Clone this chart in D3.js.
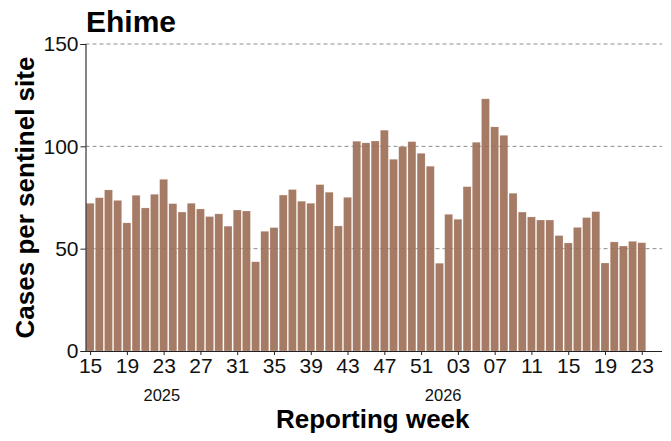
<!DOCTYPE html>
<html>
<head>
<meta charset="utf-8">
<script src="https://cdn.jsdelivr.net/npm/d3@7"></script>
<style>
  html, body { margin: 0; padding: 0; background: #fff; }
  svg { display: block; font-family: "Liberation Sans", Arial, sans-serif; }
</style>
</head>
<body>
<svg id="chart" width="671" height="441"></svg>
<script>
// ---- data ----
const title = "Ehime";
const weeks2025 = [15,16,17,18,19,20,21,22,23,24,25,26,27,28,29,30,31,32,33,34,35,36,37,38,39,40,41,42,43,44,45,46,47,48,49,50,51,52];
const values2025 = [72.2,74.9,78.7,73.6,62.6,76.1,69.9,76.6,83.9,72.0,67.9,72.2,69.4,65.7,67.0,61.0,68.9,68.4,43.6,58.5,60.3,76.2,78.9,73.2,72.2,81.3,77.6,61.1,75.1,102.5,101.7,102.6,107.9,93.7,99.9,102.3,96.6,90.3];
const weeks2026 = [1,2,3,4,5,6,7,8,9,10,11,12,13,14,15,16,17,18,19,20,21,22,23];
const values2026 = [42.9,66.8,64.4,80.3,102.0,123.2,109.5,105.4,77.1,67.9,65.5,64.0,64.0,56.4,52.8,60.4,65.2,68.1,43.0,53.3,51.3,53.6,52.9];
const yTicks = [0, 50, 100, 150];
const yearLabels = ["2025", "2026"];
const yearLabelAt = [7.8, 38.4]; // position in week-index units
const xTitle = "Reporting week";
const yTitle = "Cases per sentinel site";

(function () {
const data = [
  ...weeks2025.map((w, i) => ({ year: 2025, week: w, value: values2025[i] })),
  ...weeks2026.map((w, i) => ({ year: 2026, week: w, value: values2026[i] }))
].map((d, i) => ({ ...d, idx: i }));

// ---- layout ----
const svg = d3.select("#chart");
const pL = 85.5, pR = 662, pT = 44, pB = 351;

const x = d3.scaleLinear().domain([-0.5, 62.2]).range([pL, pR]);
const y = d3.scaleLinear().domain([0, 150]).range([pB, pT]);
const bw = (x(1) - x(0)) * 0.87;

// grid
svg.append("g").selectAll("line").data(yTicks.filter(t => t > 0)).join("line")
  .attr("x1", pL).attr("x2", pR)
  .attr("y1", d => y(d)).attr("y2", d => y(d))
  .attr("stroke", "#8c8c8c").attr("stroke-width", 1)
  .attr("stroke-dasharray", "4,3");

// bars
svg.append("g").selectAll("rect").data(data).join("rect")
  .attr("x", d => x(d.idx) - bw / 2)
  .attr("width", bw)
  .attr("y", d => y(d.value))
  .attr("height", d => y(0) - y(d.value))
  .attr("fill", "#9c6d55")
  .attr("fill-opacity", 0.9)
  .attr("stroke", "#fff")
  .attr("stroke-opacity", 0.5)
  .attr("stroke-width", 0.4);

// y axis
const yAxis = d3.axisLeft(y).tickValues(yTicks).tickSize(5).tickPadding(2);
const gy = svg.append("g").attr("transform", `translate(${pL},0)`).call(yAxis);
gy.select(".domain").attr("stroke", "#222").attr("stroke-width", 1.1);
gy.selectAll(".tick line").attr("stroke", "#222");
gy.selectAll(".tick text").attr("font-size", 21).attr("fill", "#111")
  .attr("font-family", "Liberation Sans, Arial, sans-serif");

// x axis
const tickIdx = data.filter((d, i) => i % 4 === 0).map(d => d.idx);
const xAxis = d3.axisBottom(x).tickValues(tickIdx).tickSize(4).tickPadding(3)
  .tickFormat(i => String(data[i].week).padStart(2, "0"));
const gx = svg.append("g").attr("transform", `translate(0,${pB})`).call(xAxis);
gx.select(".domain").attr("stroke", "#222").attr("stroke-width", 1.1)
  .attr("d", `M${pL},0.5H${pR}`);
gx.selectAll(".tick line").attr("stroke", "#222");
gx.selectAll(".tick text").attr("font-size", 21).attr("fill", "#111")
  .attr("font-family", "Liberation Sans, Arial, sans-serif");

// year labels
svg.append("g").selectAll("text").data(yearLabels).join("text")
  .attr("x", (d, i) => x(yearLabelAt[i]))
  .attr("y", 401)
  .attr("text-anchor", "middle")
  .attr("font-size", 16.5)
  .attr("fill", "#111")
  .text(d => d);

// axis titles
svg.append("text")
  .attr("x", (pL + pR) / 2 - 1)
  .attr("y", 428)
  .attr("text-anchor", "middle")
  .attr("font-size", 26)
  .attr("font-weight", "bold")
  .attr("fill", "#000")
  .text(xTitle);

svg.append("text")
  .attr("transform", `translate(34,${(pT + pB) / 2}) rotate(-90)`)
  .attr("text-anchor", "middle")
  .attr("font-size", 26)
  .attr("font-weight", "bold")
  .attr("fill", "#000")
  .text(yTitle);

// title
svg.append("text")
  .attr("x", 86)
  .attr("y", 32)
  .attr("font-size", 30)
  .attr("font-weight", "bold")
  .attr("fill", "#000")
  .text(title);
})();
</script>
</body>
</html>
